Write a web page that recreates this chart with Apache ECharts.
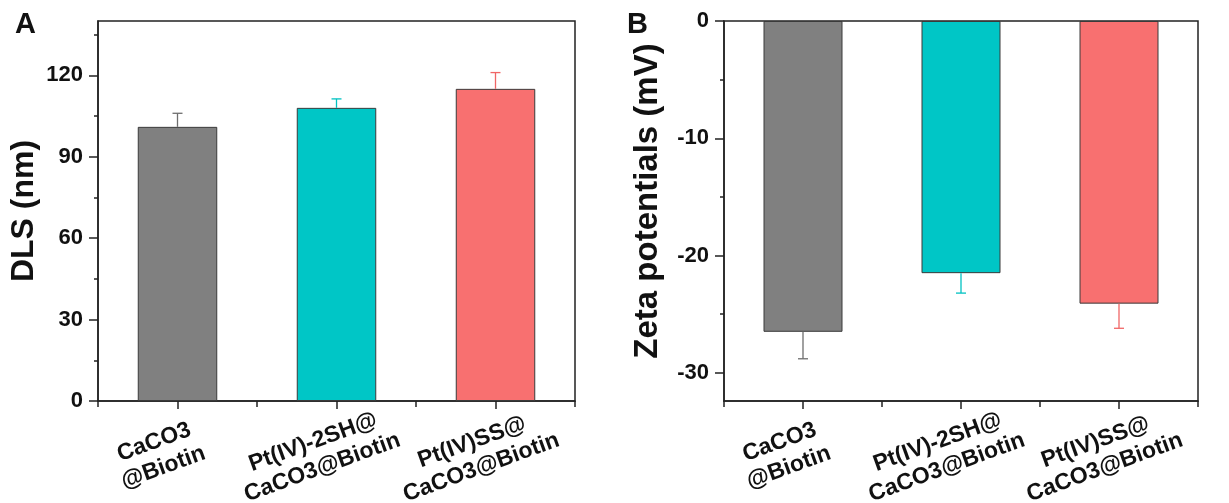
<!DOCTYPE html>
<html>
<head>
<meta charset="utf-8">
<script src="https://cdn.jsdelivr.net/npm/echarts@6/dist/echarts.min.js"></script>
<style>
html,body{margin:0;padding:0;background:#fff;}
#chart{width:1229px;height:503px;}
</style>
</head>
<body>
<div id="chart"></div>
<script>
// ---- data ----
var categories = ['CaCO3\n@Biotin', 'Pt(IV)-2SH@\nCaCO3@Biotin', 'Pt(IV)SS@\nCaCO3@Biotin'];
var dlsValues = [101, 108, 115];
var dlsErrors = [5, 3.3, 6];
var zetaValues = [-26.5, -21.5, -24.1];
var zetaErrors = [2.3, 1.7, 2.1];
var dlsTicks = [0, 30, 60, 90, 120];
var dlsMinorTicks = [15, 45, 75, 105, 135];
var zetaTicks = [-30, -20, -10, 0];
var zetaMinorTicks = [-25, -15, -5];
var barColors = ['#808080', '#00C6C6', '#F87070'];
var errColors = ['#6e6e6e', '#00C2C2', '#F06666'];

var FONT = "'Liberation Sans', Arial, sans-serif";
var chart = echarts.init(document.getElementById('chart'), null, {renderer: 'canvas'});

function barData(vals) {
  return vals.map(function (v, i) {
    return {value: v, itemStyle: {color: barColors[i], borderColor: '#3a3a3a', borderWidth: 1}};
  });
}
function errData(vals, errs) {
  return vals.map(function (v, i) { return [i, v, errs[i]]; });
}
function errRender(params, api) {
  var x = api.value(0), y = api.value(1), e = api.value(2);
  var sign = y >= 0 ? 1 : -1;
  var p0 = api.coord([x, y]);
  var p1 = api.coord([x, y + sign * e]);
  var c = errColors[params.dataIndex];
  var st = {stroke: c, lineWidth: 1.3};
  return {
    type: 'group',
    children: [
      {type: 'line', shape: {x1: p0[0], y1: p0[1], x2: p1[0], y2: p1[1]}, style: st},
      {type: 'line', shape: {x1: p1[0] - 5, y1: p1[1], x2: p1[0] + 5, y2: p1[1]}, style: st}
    ]
  };
}

var tickLabelStyle = {fontFamily: FONT, fontWeight: 'bold', fontSize: 22, color: '#111'};
var catLabel = {
  show: true, interval: 0, rotate: 20, align: 'center', verticalAlign: 'middle',
  margin: 47, padding: [0, 40, 0, 0], lineHeight: 27,
  fontFamily: FONT, fontWeight: 'bold', fontSize: 23, color: '#111'
};
var lineStyle = {color: '#222', width: 1.5};

function xAxesFor(gridIndex) {
  return [
    {gridIndex: gridIndex, type: 'category', data: categories, position: 'bottom',
     axisLine: {show: true, onZero: false, lineStyle: lineStyle},
     axisTick: {show: true, alignWithLabel: false, length: 6, lineStyle: lineStyle},
     axisLabel: catLabel, splitLine: {show: false}},
    {gridIndex: gridIndex, type: 'category', data: categories, position: 'bottom',
     axisLine: {show: false, onZero: false},
     axisTick: {show: true, alignWithLabel: true, length: 8, lineStyle: lineStyle},
     axisLabel: {show: false}, splitLine: {show: false}}
  ];
}
function yAxesFor(gridIndex, min, max, ticks, minors, name, nameGap, nameSize, namePad) {
  return [
    {gridIndex: gridIndex, type: 'value', min: min, max: max, position: 'left',
     name: name, nameLocation: 'middle', nameGap: nameGap, nameRotate: 90,
     nameTextStyle: {fontFamily: FONT, fontWeight: 'bold', fontSize: nameSize, color: '#111', padding: namePad},
     axisLine: {show: true, onZero: false, lineStyle: lineStyle},
     axisTick: {show: true, length: 9, customValues: ticks, lineStyle: lineStyle},
     axisLabel: Object.assign({margin: 15, customValues: ticks}, tickLabelStyle),
     splitLine: {show: false}},
    {gridIndex: gridIndex, type: 'value', min: min, max: max, position: 'left',
     axisLine: {show: false},
     axisTick: {show: true, length: 4, customValues: minors, lineStyle: lineStyle},
     axisLabel: {show: false}, splitLine: {show: false}}
  ];
}

var option = {
  backgroundColor: '#fff',
  animation: false,
  grid: [
    {left: 98, width: 477, top: 21, bottom: 102, show: true, borderColor: '#222', borderWidth: 1.5,
     containLabel: false, outerBoundsMode: 'none'},
    {left: 724, width: 474, top: 21, bottom: 102, show: true, borderColor: '#222', borderWidth: 1.5,
     containLabel: false, outerBoundsMode: 'none'}
  ],
  xAxis: xAxesFor(0).concat(xAxesFor(1)),
  yAxis: yAxesFor(0, 0, 140, dlsTicks, dlsMinorTicks, 'DLS (nm)', 58, 32, [0, 0, 0, 0])
    .concat(yAxesFor(1, -32.4, 0, zetaTicks, zetaMinorTicks, 'Zeta potentials (mV)', 60, 33, [0, 0, 0, 20])),
  graphic: [
    {type: 'text', left: 15, top: 10, style: {text: 'A', fontFamily: FONT, fontWeight: 'bold', fontSize: 29, fill: '#111'}},
    {type: 'text', left: 627, top: 10, style: {text: 'B', fontFamily: FONT, fontWeight: 'bold', fontSize: 29, fill: '#111'}}
  ],
  series: [
    {type: 'bar', xAxisIndex: 0, yAxisIndex: 0, barWidth: '50%', data: barData(dlsValues), z: 2},
    {type: 'custom', xAxisIndex: 0, yAxisIndex: 0, data: errData(dlsValues, dlsErrors), renderItem: errRender, z: 3},
    {type: 'bar', xAxisIndex: 2, yAxisIndex: 2, barWidth: '50%', data: barData(zetaValues), z: 2},
    {type: 'custom', xAxisIndex: 2, yAxisIndex: 2, data: errData(zetaValues, zetaErrors), renderItem: errRender, z: 3}
  ]
};
chart.setOption(option);
</script>
</body>
</html>
